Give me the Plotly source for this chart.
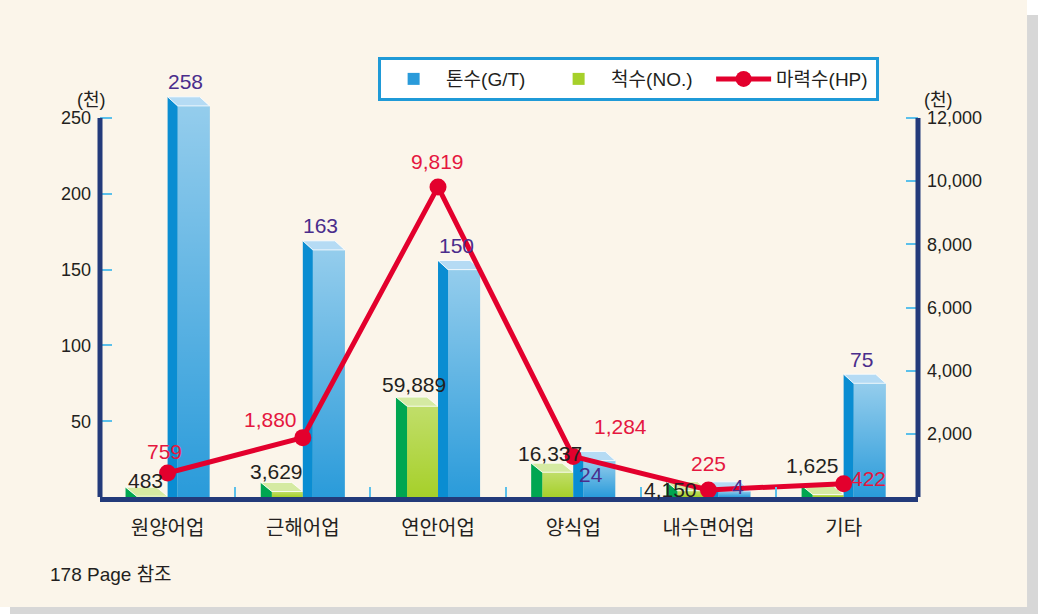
import plotly.graph_objects as go

# ---------------- data ----------------
categories = ["원양어업", "근해어업", "연안어업", "양식업", "내수면어업", "기타"]
tonnage_k = [258, 163, 150, 24, 4, 75]                 # 톤수 (천 G/T)
vessels = [483, 3629, 59889, 16337, 4150, 1625]        # 척수 (NO.)
horsepower_k = [759, 1880, 9819, 1284, 225, 422]       # 마력수 (천 HP)
left_ticks = [50, 100, 150, 200, 250]
right_ticks = [2000, 4000, 6000, 8000, 10000, 12000]

# ---------------- style ----------------
FONT = "Liberation Sans, Noto Sans CJK KR, sans-serif"
NAVY = "#233A7A"
TICKBLUE = "#5BC0EB"
BLUE_FRONT, BLUE_SIDE, BLUE_TOP = "#2A9BDA", "#0A8DD2", "#B5DBF4"
GREEN_FRONT, GREEN_SIDE, GREEN_TOP = "#A6D02A", "#00A651", "#D5EAA2"
RED = "#E3002D"
RED_TXT = "#E5173F"
PURPLE = "#4A2D8C"

# geometry of the pseudo-3D bars (x in category units, depth in left-axis units)
G_SIDE = (-0.311, -0.229)
G_FRONT = (-0.229, 0.0)
B_SIDE = (0.0, 0.074)
B_FRONT = (0.074, 0.311)
DEPTH = 6.0

YMAX = 268.5
Y2MAX = 12887

idx = list(range(len(categories)))
vessels_k = [v / 1000 for v in vessels]

fig = go.Figure()


def add_series(values, side, front, c_front, c_side, c_top, shine, name, rank):
    # front face (real bars)
    fig.add_trace(go.Bar(
        x=idx, y=values, width=front[1] - front[0], offset=front[0],
        marker=dict(color=c_front, line=dict(width=0)),
        name=name, legendrank=rank, hoverinfo="skip"))
    # gradient highlight on each front face
    for i, v in zip(idx, values):
        fig.add_trace(go.Scatter(
            x=[i + front[0], i + front[1], i + front[1], i + front[0], i + front[0]],
            y=[0, 0, v, v, 0], mode="lines", line=dict(width=0),
            fill="toself",
            fillgradient=dict(type="vertical",
                              colorscale=[[0, "rgba(255,255,255,0)"],
                                          [1, f"rgba(255,255,255,{shine})"]]),
            showlegend=False, hoverinfo="skip"))
    # side faces and top faces
    sx, sy, tx, ty = [], [], [], []
    wf = front[1] - front[0]
    for i, v in zip(idx, values):
        sx += [i + side[0], i + side[0], i + side[1], i + side[1], i + side[0], None]
        sy += [0, v + DEPTH, v, 0, 0, None]
        tx += [i + side[0], i + side[0] + wf, i + front[1], i + side[1], i + side[0], None]
        ty += [v + DEPTH, v + DEPTH, v, v, v + DEPTH, None]
    fig.add_trace(go.Scatter(x=sx, y=sy, mode="lines", line=dict(width=0),
                             fill="toself", fillcolor=c_side,
                             showlegend=False, hoverinfo="skip"))
    fig.add_trace(go.Scatter(x=tx, y=ty, mode="lines",
                             line=dict(width=1, color="rgba(255,255,255,0.8)"),
                             fill="toself", fillcolor=c_top,
                             showlegend=False, hoverinfo="skip"))


add_series(vessels_k, G_SIDE, G_FRONT, GREEN_FRONT, GREEN_SIDE, GREEN_TOP, 0.3, "척수(NO.)", 2)
add_series(tonnage_k, B_SIDE, B_FRONT, BLUE_FRONT, BLUE_SIDE, BLUE_TOP, 0.5, "톤수(G/T)", 1)

fig.add_trace(go.Scatter(
    x=idx, y=horsepower_k, yaxis="y2", mode="lines+markers", name="마력수(HP)",
    legendrank=3, line=dict(color=RED, width=5),
    marker=dict(color=RED, size=17), hoverinfo="skip"))

# ---------------- data labels ----------------
blue_c = (B_FRONT[0] + B_FRONT[1]) / 2
green_c = (G_FRONT[0] + G_FRONT[1]) / 2
blue_dx = [-8, -8, -8, -8, 4, -8]
blue_dy = [24, 24, 24, -14, 4, 24]
green_dx = [-7, -11, -9, -8, -22, -16]
green_dy = [16, 20, 22, 19, 1, 29]
red_dx = [-3, -32, -1, 47, 0, 25]
red_dy = [22, 18, 25, 30, 26, 5]

ann = []
for i in idx:
    ann.append(dict(x=i + blue_c, y=tonnage_k[i], xref="x", yref="y",
                    text=f"{tonnage_k[i]:,}", showarrow=False,
                    xshift=blue_dx[i], yshift=blue_dy[i],
                    font=dict(family=FONT, size=21, color=PURPLE)))
    ann.append(dict(x=i + green_c, y=vessels_k[i], xref="x", yref="y",
                    text=f"{vessels[i]:,}", showarrow=False,
                    xshift=green_dx[i], yshift=green_dy[i],
                    font=dict(family=FONT, size=21, color="#231F20")))
    ann.append(dict(x=i, y=horsepower_k[i], xref="x", yref="y2",
                    text=f"{horsepower_k[i]:,}", showarrow=False,
                    xshift=red_dx[i], yshift=red_dy[i],
                    font=dict(family=FONT, size=21, color=RED_TXT)))

ann += [
    dict(x=-0.0306, y=1.006, xref="paper", yref="paper", text="(천)", showarrow=False,
         font=dict(family=FONT, size=18, color="#231F20")),
    dict(x=1.0452, y=1.006, xref="paper", yref="paper", text="(천)", showarrow=False,
         font=dict(family=FONT, size=18, color="#231F20")),
    dict(x=-0.0636, y=-0.2212, xref="paper", yref="paper", text="178 Page 참조",
         xanchor="left", showarrow=False,
         font=dict(family=FONT, size=19, color="#231F20")),
]

shapes = [
    # page shadow and cream panel
    dict(type="rect", xref="paper", yref="paper", x0=-0.110, x1=1.1467,
         y0=-0.2875, y1=1.1843, fillcolor="#D7D7D7", line=dict(width=0), layer="below"),
    dict(type="rect", xref="paper", yref="paper", x0=-0.1222, x1=1.1333,
         y0=-0.2703, y1=1.2211, fillcolor="#FBF5EA", line=dict(width=0), layer="below"),
    # vertical axis lines (up to the top tick only)
    dict(type="line", xref="paper", yref="y", x0=0, x1=0, y0=0, y1=250,
         line=dict(color=NAVY, width=5)),
    dict(type="line", xref="paper", yref="y2", x0=1, x1=1, y0=0, y1=12000,
         line=dict(color=NAVY, width=5)),
]

fig.update_layout(
    width=1038, height=614,
    margin=dict(l=100, r=120, t=90, b=117),
    paper_bgcolor="white", plot_bgcolor="rgba(0,0,0,0)",
    barmode="overlay",
    font=dict(family=FONT, color="#231F20"),
    showlegend=True,
    legend=dict(orientation="h", x=0.34, y=1.081, xanchor="left", yanchor="top",
                bgcolor="white", bordercolor="#1F9AD7", borderwidth=3,
                font=dict(family=FONT, size=19, color="#231F20"),
                itemwidth=55, entrywidth=95, entrywidthmode="pixels",
                traceorder="normal"),
    xaxis=dict(range=[-0.5, 5.55], tickmode="array", tickvals=idx, ticktext=categories,
               ticks="", showgrid=False, zeroline=False,
               showline=True, linecolor=NAVY, linewidth=5,
               tickfont=dict(family=FONT, size=20, color="#231F20"),
               ticklabelstandoff=9,
               minor=dict(tickmode="array", tickvals=[i + 0.5 for i in idx[:-1]],
                          ticks="inside", ticklen=10, tickwidth=2, tickcolor=TICKBLUE)),
    yaxis=dict(range=[0, YMAX], tickmode="array", tickvals=left_ticks,
               ticks="inside", ticklen=12, tickwidth=2, tickcolor=TICKBLUE,
               showgrid=False, zeroline=False, showline=False,
               tickfont=dict(family=FONT, size=18, color="#231F20"),
               ticklabelstandoff=8),
    yaxis2=dict(range=[0, Y2MAX], overlaying="y", side="right",
                tickmode="array", tickvals=right_ticks, tickformat=",",
                ticks="inside", ticklen=12, tickwidth=2, tickcolor=TICKBLUE,
                showgrid=False, zeroline=False, showline=False,
                tickfont=dict(family=FONT, size=18, color="#231F20"),
                ticklabelstandoff=8),
    annotations=ann,
    shapes=shapes,
)

fig.write_html("out.html", config={"displayModeBar": False},
               post_script="document.body.style.margin='0px';")
